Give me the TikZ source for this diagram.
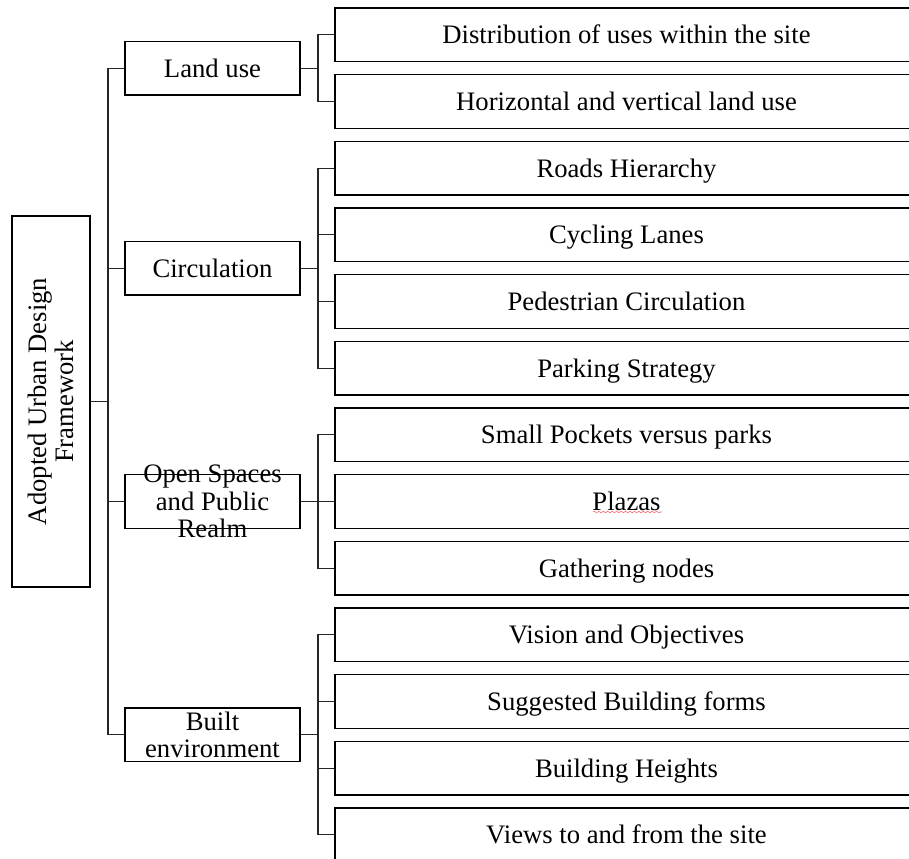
\documentclass[tikz,border=0pt]{standalone}
\usepackage{fontspec}
\setmainfont{Liberation Serif}
\usepackage{tikz}
\usetikzlibrary{decorations.pathmorphing}

\tikzset{
  box/.style={draw=black, line width=0.6pt, inner sep=0pt, font=\fontsize{12}{12.4}\selectfont},
  rootbox/.style={box, rotate=90, align=center, minimum width=167pt, minimum height=35.1pt},
  midbox/.style={box, align=center, minimum width=78.75pt, minimum height=24.1pt},
  leafbox/.style={box, minimum width=262.35pt, minimum height=24.1pt, text height=8.2pt, text depth=0pt},
  link/.style={draw=black!85, line width=0.5pt},
  squiggle/.style={draw=red!55, line width=0.3pt, decorate, decoration={snake, amplitude=0.35pt, segment length=2pt}}
}

\begin{document}
\begin{tikzpicture}[x=0.45pt, y=-0.45pt]
                \clip (0,0) rectangle (909,859);

                % Root
                \node[rootbox] (root) at (51,401.5) {Adopted Urban Design\\Framework};
                \coordinate (trunk) at (108,401.5);

                % Main topics
                \node[midbox] (landuse) at (212.5,68.1) {Land use};
                \node[midbox] (circ) at (212.5,268.1) {Circulation};
                \node[midbox] (open) at (212.5,501.4) {};
                \node[box, draw=none, align=center] (opentext) at (open) {Open Spaces\\and Public\\Realm};
                \node[midbox] (built) at (212.5,734.75) {Built\\environment};

                % Forks
                \coordinate (landuse-fork) at (318,68.1);
                \coordinate (circ-fork) at (318,268.1);
                \coordinate (open-fork) at (318,501.4);
                \coordinate (built-fork) at (318,734.75);

                % Land use items
                \node[leafbox] (dist) at (626.5,34.75) {Distribution of uses within the site};
                \node[leafbox] (horiz) at (626.5,101.4) {Horizontal and vertical land use};

                % Circulation items
                \node[leafbox] (roads) at (626.5,168.1) {Roads Hierarchy};
                \node[leafbox] (cycling) at (626.5,234.75) {Cycling Lanes};
                \node[leafbox] (pedestrian) at (626.5,301.4) {Pedestrian Circulation};
                \node[leafbox] (parking) at (626.5,368.1) {Parking Strategy};

                % Open space items
                \node[leafbox] (pockets) at (626.5,434.75) {Small Pockets versus parks};
                \node[leafbox] (plazas) at (626.5,501.4) {Plazas};
                \node[leafbox] (gathering) at (626.5,568.1) {Gathering nodes};

                % Built environment items
                \node[leafbox] (vision) at (626.5,634.75) {Vision and Objectives};
                \node[leafbox] (forms) at (626.5,701.4) {Suggested Building forms};
                \node[leafbox] (heights) at (626.5,768.1) {Building Heights};
                \node[leafbox] (views) at (626.5,834.75) {Views to and from the site};

                % Trunk
                \draw[link] (root.south) -- (trunk);
                \draw[link] (trunk) |- (landuse.west);
                \draw[link] (trunk) |- (circ.west);
                \draw[link] (trunk) |- (open.west);
                \draw[link] (trunk) |- (built.west);

                % Branches
                \draw[link] (landuse.east) -- (landuse-fork);
                \draw[link] (landuse-fork) |- (dist.west);
                \draw[link] (landuse-fork) |- (horiz.west);

                \draw[link] (circ.east) -- (circ-fork);
                \draw[link] (circ-fork) |- (roads.west);
                \draw[link] (circ-fork) |- (cycling.west);
                \draw[link] (circ-fork) |- (pedestrian.west);
                \draw[link] (circ-fork) |- (parking.west);

                \draw[link] (open.east) -- (open-fork);
                \draw[link] (open-fork) |- (pockets.west);
                \draw[link] (open-fork) |- (plazas.west);
                \draw[link] (open-fork) |- (gathering.west);

                \draw[link] (built.east) -- (built-fork);
                \draw[link] (built-fork) |- (vision.west);
                \draw[link] (built-fork) |- (forms.west);
                \draw[link] (built-fork) |- (heights.west);
                \draw[link] (built-fork) |- (views.west);

                % Spelling mark
                \draw[squiggle] (593,512) -- (662,512);
            \end{tikzpicture}
\end{document}
